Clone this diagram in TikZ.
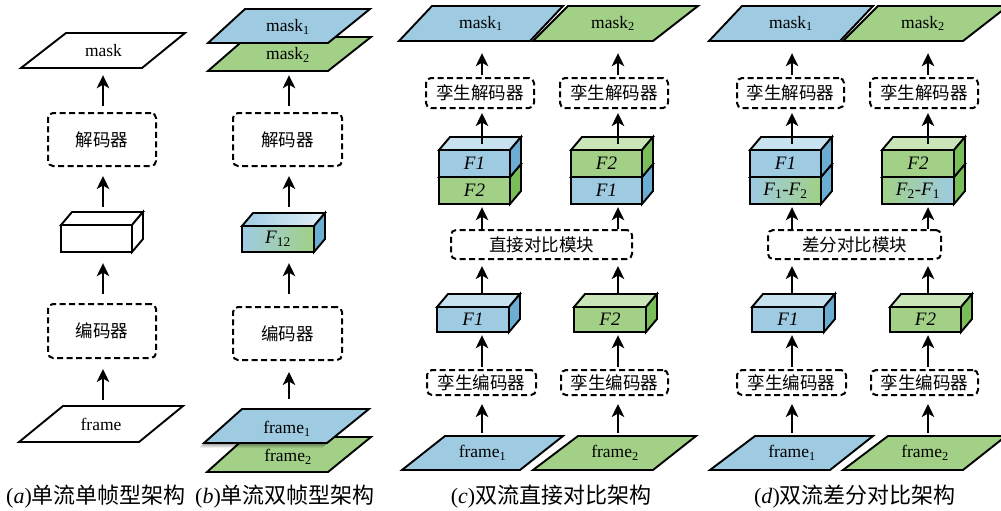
\documentclass[tikz,border=0pt]{standalone}
\usepackage{fontspec}
\setmainfont{Liberation Serif}
\newfontfamily\cjk{Noto Sans CJK SC}
\usetikzlibrary{arrows.meta,calc}
\definecolor{bF}{RGB}{158,203,226}
\definecolor{bS}{RGB}{108,174,211}
\definecolor{bT}{RGB}{200,226,240}
\definecolor{gF}{RGB}{161,208,134}
\definecolor{gS}{RGB}{122,190,90}
\definecolor{gT}{RGB}{202,229,184}
\def\cdx{11}
\def\cdy{13}
\tikzset{
  outl/.style={line width=1.9pt},
  dbox/.style={draw, line width=2pt, dash pattern=on 6pt off 3.5pt, rounded corners=5pt, inner sep=0pt, font=\cjk\fontsize{17.5}{18}\selectfont},
  arr/.style={line width=2pt, -{Stealth[length=13pt,width=12.5pt,inset=3.5pt]}},
  lbl/.style={font=\fontsize{17.5}{18}\selectfont, inner sep=0pt},
  flbl/.style={font=\fontsize{19}{20}\selectfont, inner sep=0pt},
  captxt/.style={font=\fontsize{22}{24}\selectfont, inner sep=0pt},
}
% #1 name, #2 TLx, #3 TRx, #4 top y, #5 BLx, #6 BRx, #7 bottom y, #8 fill, #9 text
\newcommand\para[9]{%
  \filldraw[outl, fill=#8] (#2,#4) -- (#3,#4) -- (#6,#7) -- (#5,#7) -- cycle;
  \node[lbl, minimum height={(#7-#4)*1pt}] (#1) at ({(#2+#3+#5+#6)/4},{(#4+#7)/2}) {#9};}
% #1 name, #2 x1, #3 x2, #4 y1, #5 y2, #6 front, #7 top, #8 side, #9 text
\newcommand\cube[9]{%
  \path[outl, draw, #6] (#2,#4) rectangle (#3,#5);
  \path[outl, draw, #7] (#2,#4) -- ++(\cdx,-\cdy) -- ++({#3-#2},0) -- (#3,#4) -- cycle;
  \path[outl, draw, #8] (#3,#4) -- ++(\cdx,-\cdy) -- ++(0,{#5-#4}) -- (#3,#5) -- cycle;
  \node[flbl, minimum width={(#3-#2)*1pt}, minimum height={(#5-#4)*1pt}] (#1) at ({(#2+#3)/2},{(#4+#5)/2}) {#9};
  \coordinate (#1-t) at ({(#2+#3)/2+\cdx/2},{#4-\cdy});
  \coordinate (#1-m) at ({(#2+#3)/2+\cdx/2},{#4-\cdy/2});}
% #1 name, #2 x1, #3 x2, #4 y1, #5 y2, #6 text
\newcommand\dbx[6]{%
  \node[dbox, minimum width={(#3-#2)*1pt}, minimum height={(#5-#4)*1pt}] (#1) at ({(#2+#3)/2},{(#4+#5)/2}) {#6};}
\begin{document}
\begin{tikzpicture}[x=1pt,y=-1pt]
\useasboundingbox (0,0) rectangle (1001,511);
\coordinate (colA) at (103,0);
\coordinate (colB) at (289,0);
\coordinate (colCL) at (482,0);
\coordinate (colCR) at (618,0);
\coordinate (colDL) at (792,0);
\coordinate (colDR) at (928,0);

% ---------------- (a)
\para{maskA}{66}{185}{33}{21}{142}{68}{white}{mask}
\dbx{decA}{48}{156}{113}{166}{解码器}
\cube{cubeA}{61}{132}{225}{252}{fill=white}{fill=white}{fill=white}{}
\dbx{encA}{48}{156}{304}{358}{编码器}
\para{frameA}{63}{183}{406}{19}{139}{442}{white}{frame}
\node[captxt] (capA) at (96,497) {(\textit{a}){\cjk 单流单帧型架构}};

\draw[arr, shorten <=6pt, shorten >=10pt] (frameA.north -| colA) -- (encA.south -| colA);
\draw[arr, shorten <=9pt, shorten >=11pt] (encA.north -| colA) -- (cubeA.south -| colA);
\draw[arr, shorten <=5pt, shorten >=9pt] (cubeA-t -| colA) -- (decA.south -| colA);
\draw[arr, shorten <=6pt, shorten >=7pt] (decA.north -| colA) -- (maskA.south -| colA);

% ---------------- (b)
\para{maskB2}{247}{371}{37}{208}{328}{71}{gF}{}
\para{maskB1}{245}{370}{9}{208}{328}{43}{bF}{}
\node[lbl] (maskB1t) at (288,27) {mask\textsubscript{1}};
\node[lbl] (maskB2t) at (288,55) {mask\textsubscript{2}};
\dbx{decB}{233}{342}{113}{166}{解码器}
\cube{cubeB}{242}{314}{226}{252}{left color=bF,right color=gF}{left color=bF,right color=bT!50!white}{fill=bS}{\textit{F}\textsubscript{12}}
\dbx{encB}{233}{342}{307}{360}{编码器}
\para{frameB2}{246}{371}{437}{207}{328}{472}{gF}{}
\foreach \s/\o in {5/0.06,4/0.08,3/0.10,2/0.12}{
  \fill[black, opacity=\o] ({242-\s},{409+\s}) -- ({369-\s},{409+\s}) -- ({327-\s},{443+\s}) -- ({204-\s},{443+\s}) -- cycle;}
\para{frameB1}{242}{369}{409}{204}{327}{443}{bF}{}
\node[lbl] (frameB1t) at (287,429) {frame\textsubscript{1}};
\node[lbl] (frameB2t) at (288,457) {frame\textsubscript{2}};
\node[captxt] (capB) at (285,497) {(\textit{b}){\cjk 单流双帧型架构}};

\draw[arr, shorten <=10pt, shorten >=11pt] (frameB1.north -| colB) -- (encB.south -| colB);
\draw[arr, shorten <=12pt, shorten >=11pt] (encB.north -| colB) -- (cubeB.south -| colB);
\draw[arr, shorten <=6pt, shorten >=9pt] (cubeB-t -| colB) -- (decB.south -| colB);
\draw[arr, shorten <=6pt, shorten >=4pt] (decB.north -| colB) -- (maskB2.south -| colB);

% ---------------- (c)
\para{maskC1}{432}{563}{6}{399}{530}{41}{bF}{mask\textsubscript{1}}
\para{maskC2}{568}{698}{6}{533}{653}{41}{gF}{mask\textsubscript{2}}
\dbx{decCL}{426}{534}{78}{108}{孪生解码器}
\dbx{decCR}{560}{668}{78}{108}{孪生解码器}
\cube{stCLb}{439}{510}{177}{204}{fill=gF}{fill=gT}{fill=gS}{\textit{F2}}
\cube{stCL}{439}{510}{150}{177}{fill=bF}{fill=bT}{fill=bS}{\textit{F1}}
\cube{stCRb}{571}{642}{177}{204}{fill=bF}{fill=bT}{fill=bS}{\textit{F1}}
\cube{stCR}{571}{642}{150}{177}{fill=gF}{fill=gT}{fill=gS}{\textit{F2}}
\dbx{modC}{451}{632}{230}{259}{直接对比模块}
\cube{fCL}{437}{509}{307}{332}{fill=bF}{fill=bT}{fill=bS}{\textit{F1}}
\cube{fCR}{574}{646}{307}{332}{fill=gF}{fill=gT}{fill=gS}{\textit{F2}}
\dbx{encCL}{427}{536}{370}{395}{孪生编码器}
\dbx{encCR}{561}{668}{370}{395}{孪生编码器}
\para{frameC1}{445}{563}{436}{402}{520}{470}{bF}{frame\textsubscript{1}}
\para{frameC2}{578}{696}{436}{533}{653}{470}{gF}{frame\textsubscript{2}}
\node[captxt] (capC) at (551,497) {(\textit{c}){\cjk 双流直接对比架构}};

\foreach \c/\s in {L/1,R/2}{
  \draw[arr, shorten <=3pt, shorten >=8pt] (frameC\s.north -| colC\c) -- (encC\c.south -| colC\c);
  \draw[arr, shorten <=2pt, shorten >=3pt] (encC\c.north -| colC\c) -- (fC\c.south -| colC\c);
  \draw[arr, shorten <=1pt, shorten >=6pt] (fC\c-t -| colC\c) -- (modC.south -| colC\c);
  \draw[arr, shorten <=0pt, shorten >=3pt] (modC.north -| colC\c) -- (stC\c b.south -| colC\c);
  \draw[arr, shorten <=0pt, shorten >=4pt] (stC\c-m -| colC\c) -- (decC\c.south -| colC\c);
  \draw[arr, shorten <=2pt, shorten >=12pt] (decC\c.north -| colC\c) -- (maskC\s.south -| colC\c);
}

% ---------------- (d)
\para{maskD1}{742}{873}{6}{709}{840}{41}{bF}{mask\textsubscript{1}}
\para{maskD2}{878}{1008}{6}{843}{963}{41}{gF}{mask\textsubscript{2}}
\dbx{decDL}{737}{844}{78}{108}{孪生解码器}
\dbx{decDR}{870}{978}{78}{108}{孪生解码器}
\cube{stDLb}{750}{821}{177}{204}{left color=bF,right color=gF}{fill=bT}{fill=bS}{\textit{F}\textsubscript{1}-\textit{F}\textsubscript{2}}
\cube{stDL}{750}{821}{150}{177}{fill=bF}{fill=bT}{fill=bS}{\textit{F1}}
\cube{stDRb}{882}{954}{177}{204}{left color=gF,right color=bF}{fill=gT}{fill=gS}{\textit{F}\textsubscript{2}-\textit{F}\textsubscript{1}}
\cube{stDR}{882}{954}{150}{177}{fill=gF}{fill=gT}{fill=gS}{\textit{F2}}
\dbx{modD}{768}{941}{230}{259}{差分对比模块}
\cube{fDL}{752}{824}{307}{332}{fill=bF}{fill=bT}{fill=bS}{\textit{F1}}
\cube{fDR}{890}{961}{307}{332}{fill=gF}{fill=gT}{fill=gS}{\textit{F2}}
\dbx{encDL}{737}{846}{370}{395}{孪生编码器}
\dbx{encDR}{871}{978}{370}{395}{孪生编码器}
\para{frameD1}{755}{873}{436}{710}{830}{470}{bF}{frame\textsubscript{1}}
\para{frameD2}{888}{1006}{436}{843}{963}{470}{gF}{frame\textsubscript{2}}
\node[captxt] (capD) at (855,497) {(\textit{d}){\cjk 双流差分对比架构}};

\foreach \c/\s in {L/1,R/2}{
  \draw[arr, shorten <=3pt, shorten >=8pt] (frameD\s.north -| colD\c) -- (encD\c.south -| colD\c);
  \draw[arr, shorten <=2pt, shorten >=3pt] (encD\c.north -| colD\c) -- (fD\c.south -| colD\c);
  \draw[arr, shorten <=1pt, shorten >=6pt] (fD\c-t -| colD\c) -- (modD.south -| colD\c);
  \draw[arr, shorten <=0pt, shorten >=3pt] (modD.north -| colD\c) -- (stD\c b.south -| colD\c);
  \draw[arr, shorten <=0pt, shorten >=4pt] (stD\c-m -| colD\c) -- (decD\c.south -| colD\c);
  \draw[arr, shorten <=2pt, shorten >=12pt] (decD\c.north -| colD\c) -- (maskD\s.south -| colD\c);
}
\end{tikzpicture}
\end{document}
